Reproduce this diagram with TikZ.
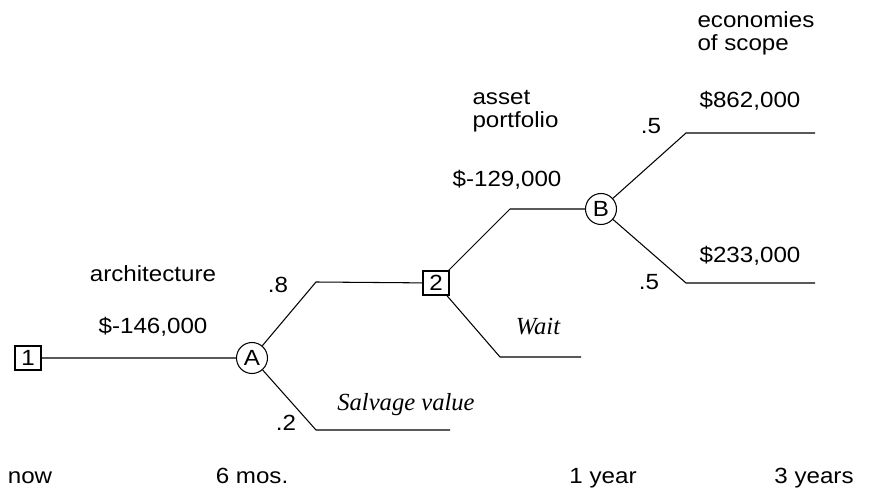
\documentclass[tikz,border=0pt]{standalone}
\usepackage{fontspec}
\setmainfont{Liberation Sans}[FakeStretch=1.1]
\newfontfamily\serifit{Liberation Serif}
\usetikzlibrary{positioning}
\tikzset{decision node/.style={rectangle,draw,minimum width=0.52cm,minimum height=0.48cm,inner sep=0pt,font=\fontsize{12.5}{12.5}\selectfont},
         chance node/.style={circle,draw,minimum size=0.62cm,inner sep=0pt,font=\fontsize{12.5}{12.5}\selectfont},
         lbl/.style={font=\fontsize{12.5}{13.2}\selectfont,inner sep=0pt,anchor=base},
         outcome/.style={font=\fontsize{14}{14}\serifit\itshape,inner sep=0pt,anchor=base}}

\begin{document}
\begin{tikzpicture}[x=0.02cm,y=-0.02cm,semithick]
            \useasboundingbox (0,0) rectangle (872,489);
            \node[decision node] (1) at (28,358) {1};
            \node[chance node] (A) at (252,358) {A};
            \node[decision node] (2) at (436,283) {2};
            \node[chance node] (B) at (601,209) {B};

            \coordinate (a1) at (316,282);
            \coordinate (a2) at (316,430);
            \coordinate (a2e) at (450,430);
            \coordinate (b1) at (510,209);
            \coordinate (b2) at (500,357);
            \coordinate (b2e) at (581,357);
            \coordinate (c1) at (686,133);
            \coordinate (c1e) at (815,133);
            \coordinate (c2) at (686,283);
            \coordinate (c2e) at (815,283);

            \path[draw]
            (1) -- (A)
            (A) -- (a1) -- (2)
            (A) -- (a2) -- (a2e)
            (2) -- (b1) -- (B)
            (2) -- (b2) -- (b2e)
            (B) -- (c1) -- (c1e)
            (B) -- (c2) -- (c2e);

            % labels
            \node[lbl] at (153,282) {architecture};
            \node[lbl] at (153,334) {\$-146,000};
            \node[lbl] at (278,293) {.8};
            \node[lbl] at (286,430) {.2};
            \node[outcome] at (406,410) {Salvage value};
            \node[outcome] at (538,335) {Wait};
            \node[lbl,align=left,anchor=base west] at (472,128) {asset\\portfolio};
            \node[lbl] at (507,187) {\$-129,000};
            \node[lbl] at (651,134) {.5};
            \node[lbl] at (649,290) {.5};
            \node[lbl] at (750,108) {\$862,000};
            \node[lbl] at (750,263) {\$233,000};
            \node[lbl,align=left,anchor=base west] at (697,51) {economies\\of scope};

            % time axis
            \node[lbl] at (30,483) {now};
            \node[lbl] at (252,483) {6 mos.};
            \node[lbl] at (603,483) {1 year};
            \node[lbl] at (814,483) {3 years};
        \end{tikzpicture}
\end{document}
